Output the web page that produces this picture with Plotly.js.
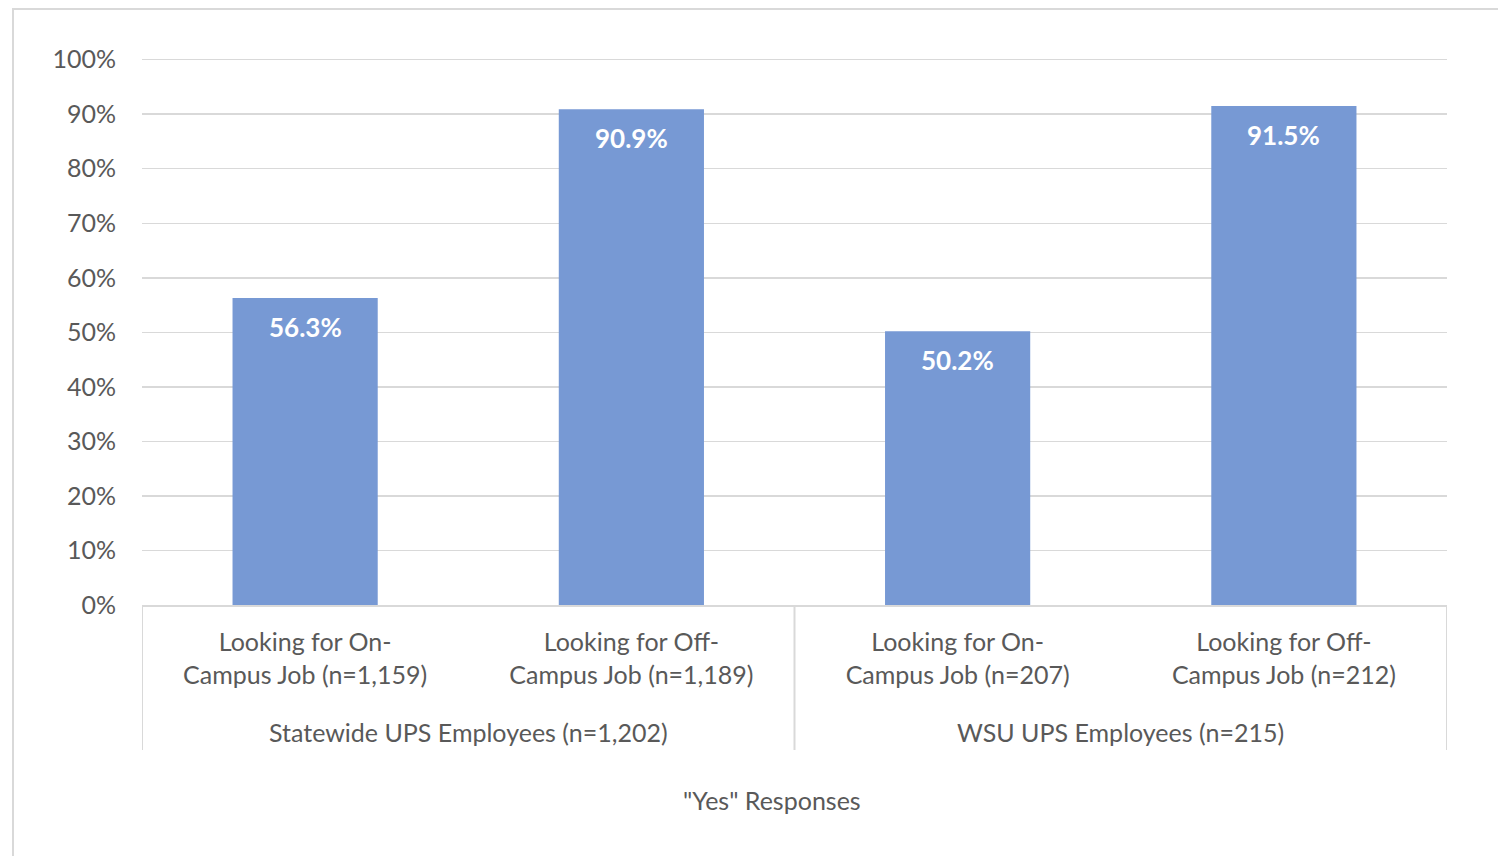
<!DOCTYPE html>
<html>
<head>
<meta charset="utf-8">
<script src="https://cdn.plot.ly/plotly-3.0.1.min.js"></script>
<style>
html,body{margin:0;padding:0;background:#fff;}
#frame{position:absolute;left:12px;top:8px;width:1600px;height:1000px;border-left:2px solid #d9d9d9;border-top:2px solid #d9d9d9;}
#chart{position:absolute;left:0;top:0;width:1498px;height:856px;}
</style>
</head>
<body>
<div id="frame"></div>
<div id="chart"></div>
<script>
const groups = ["Statewide UPS Employees (n=1,202)", "Statewide UPS Employees (n=1,202)", "WSU UPS Employees (n=215)", "WSU UPS Employees (n=215)"];
const categories = ["Looking for On-<br>Campus Job (n=1,159)", "Looking for Off-<br>Campus Job (n=1,189)", "Looking for On-<br>Campus Job (n=207)", "Looking for Off-<br>Campus Job (n=212)"];
const values = [56.3, 90.9, 50.2, 91.5];
const xTitle = '"Yes" Responses';

const font = "Lato, 'Open Sans', sans-serif";
const grey = '#595959';
const lineGrey = '#d9d9d9';
const idx = categories.map((c, i) => i);

const trace = {
  type: 'bar',
  x: idx,
  y: values,
  marker: {color: '#7799d4'},
  width: 0.445,
  hoverinfo: 'skip'
};

const annotations = values.map((v, i) => ({
  x: i, y: v, xref: 'x', yref: 'y',
  text: '<b>' + v.toFixed(1) + '%</b>',
  showarrow: false, yanchor: 'top', yshift: -11,
  font: {family: font, size: 26, color: '#ffffff'}
}));

// group labels + dividers derived from the groups array
const shapes = [];
let start = 0;
shapes.push({type: 'line', xref: 'x', yref: 'paper', ysizemode: 'pixel', yanchor: 0,
  x0: -0.5, x1: -0.5, y0: 0, y1: -145, line: {color: lineGrey, width: 2}});
for (let i = 1; i <= groups.length; i++) {
  if (i === groups.length || groups[i] !== groups[start]) {
    annotations.push({
      x: (start + i - 1) / 2, y: 0, xref: 'x', yref: 'paper',
      text: groups[start], showarrow: false, yanchor: 'middle', yshift: -127,
      font: {family: font, size: 25, color: grey}
    });
    shapes.push({type: 'line', xref: 'x', yref: 'paper', ysizemode: 'pixel', yanchor: 0,
      x0: i - 0.5, x1: i - 0.5, y0: 0, y1: -145, line: {color: lineGrey, width: 2}});
    start = i;
  }
}
annotations.push({
  x: 0.5, y: 0, xref: 'paper', yref: 'paper', text: xTitle, showarrow: false,
  xshift: -23, yanchor: 'middle', yshift: -195, font: {family: font, size: 25, color: grey}
});

const layout = {
  width: 1498, height: 856,
  margin: {l: 142, r: 51, t: 58, b: 251},
  paper_bgcolor: 'rgba(0,0,0,0)',
  plot_bgcolor: 'rgba(0,0,0,0)',
  showlegend: false,
  xaxis: {
    type: 'linear', range: [-0.5, categories.length - 0.5],
    tickmode: 'array', tickvals: idx, ticktext: categories,
    showgrid: false, zeroline: false,
    showline: true, linecolor: lineGrey, linewidth: 2,
    ticks: '', ticklabelstandoff: 14,
    tickfont: {family: font, size: 25, color: grey}
  },
  yaxis: {
    range: [0, 100.3], tickmode: 'linear', tick0: 0, dtick: 10, ticksuffix: '%',
    showgrid: true, gridcolor: lineGrey, gridwidth: 1.5,
    zeroline: false, showline: false,
    tickfont: {family: font, size: 25, color: grey},
    ticklabelstandoff: 25
  },
  annotations: annotations,
  shapes: shapes
};
Plotly.newPlot('chart', [trace], layout, {displayModeBar: false, staticPlot: true});
</script>
</body>
</html>
